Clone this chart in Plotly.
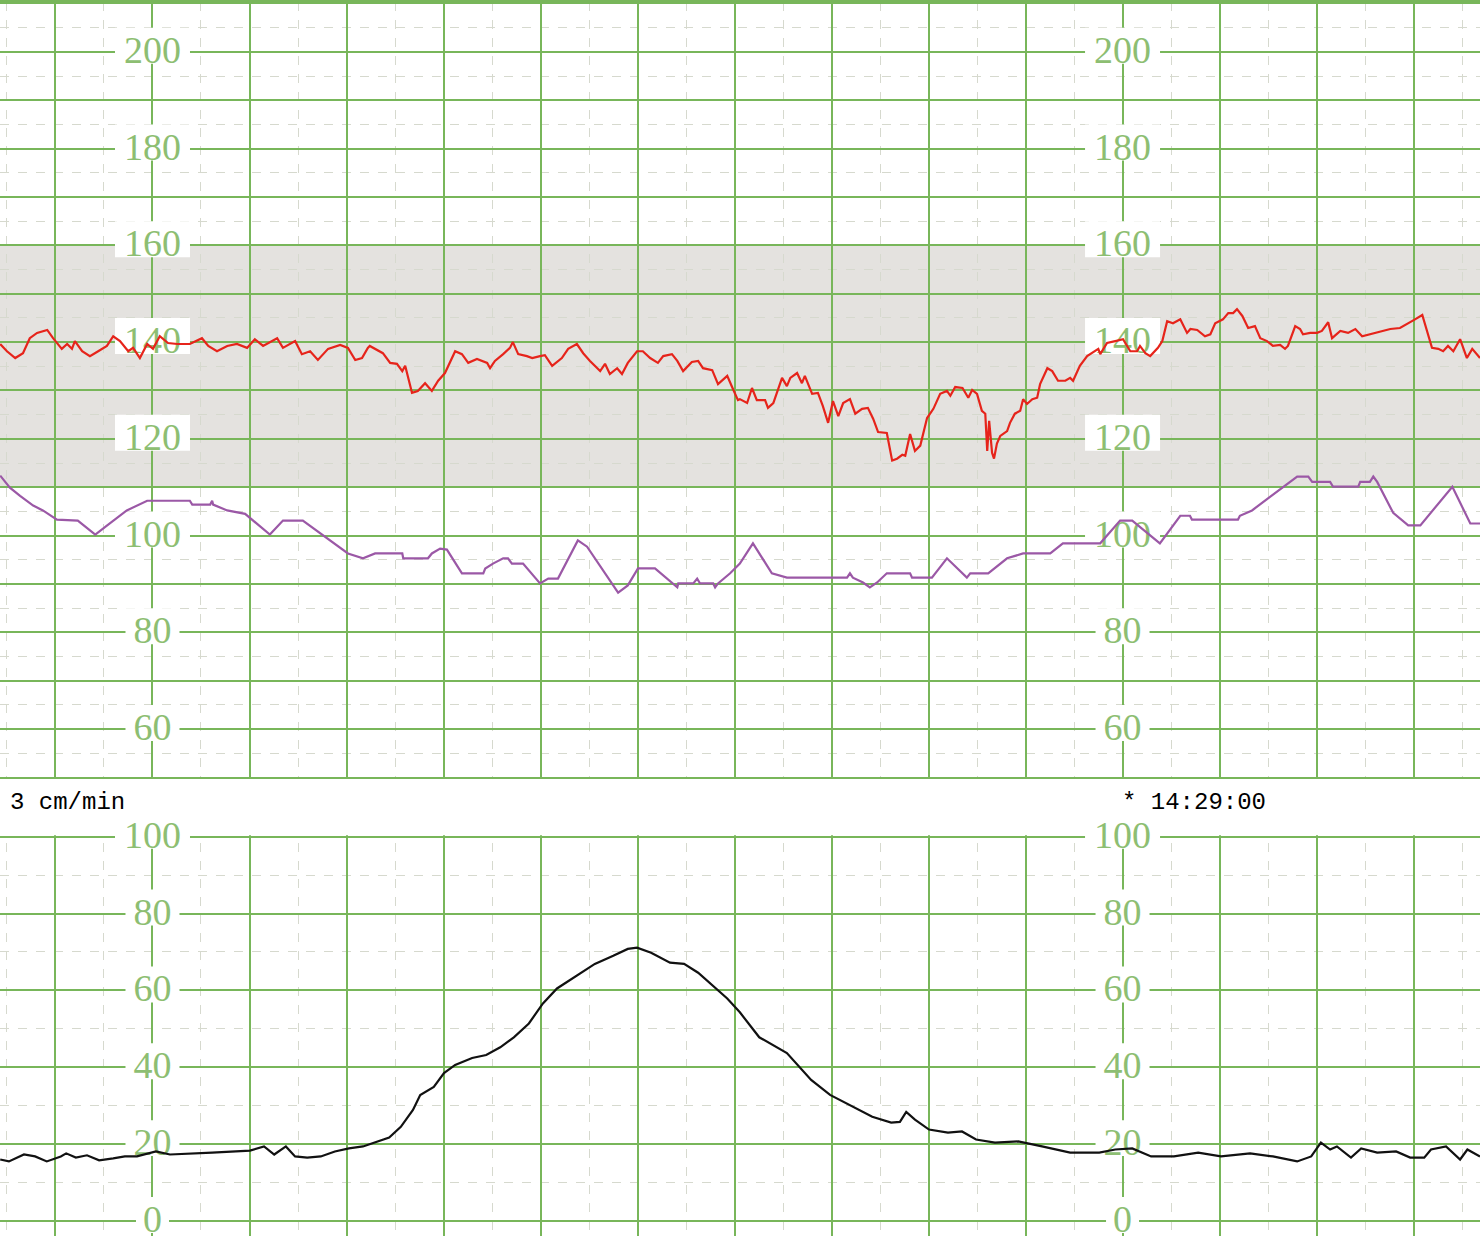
import plotly.graph_objects as go

# ---------------- data (time in seconds, 3 cm/min paper; 1 major division = 20 s) ----------------
fhr_t = [8.6, 10.0, 11.7, 13.3, 14.7, 16.2, 18.3, 19.5, 21.3, 22.4, 23.4, 24.0, 25.5, 27.1, 28.8, 30.6,
         31.9, 33.3, 35.0, 36.0, 37.4, 38.9, 40.1, 41.5, 43.2, 45.1, 47.7, 50.2, 51.5, 53.3, 55.4, 57.4,
         59.5, 61.1, 62.8, 65.7, 66.9, 69.4, 70.8, 72.5, 74.1, 76.2, 78.7, 80.3, 81.8, 83.2, 84.4, 84.8,
         87.5, 89.0, 90.4, 91.5, 92.1, 93.5, 94.7, 96.2, 97.6, 98.9, 100.3, 102.4, 103.8, 105.1, 106.9,
         109.0, 109.6, 110.6, 112.3, 113.7, 114.3, 115.4, 117.2, 118.3, 119.9, 120.9, 122.4, 124.4, 125.7,
         127.5, 128.8, 130.2, 132.3, 133.3, 134.3, 135.8, 136.8, 138.0, 139.9, 141.1, 142.6, 144.2, 145.3,
         147.1, 148.2, 149.4, 151.2, 152.5, 153.5, 155.4, 156.6, 158.5, 159.5, 160.7, 161.1, 162.6, 163.6,
         164.6, 166.3, 166.9, 168.0, 169.8, 170.8, 171.5, 172.9, 173.9, 174.5, 176.0, 177.2, 178.2, 179.3,
         180.3, 181.4, 182.4, 183.8, 184.9, 186.3, 187.5, 188.6, 189.6, 191.4, 192.5, 193.5, 194.6, 195.2,
         196.2, 197.2, 198.3, 199.7, 201.0, 202.4, 203.8, 204.5, 205.5, 207.0, 208.2, 209.0, 210.0, 211.0,
         211.7, 212.1, 212.5, 213.1, 213.5, 214.1, 214.8, 216.2, 216.8, 217.8, 218.9, 219.5, 220.3, 221.4,
         222.4, 223.0, 224.5, 225.5, 226.7, 228.2, 229.2, 229.8, 231.2, 232.7, 235.0, 235.4, 236.8, 238.5,
         240.1, 241.6, 243.0, 243.6, 244.7, 245.7, 247.3, 248.2, 249.2, 250.4, 251.9, 253.3, 254.0, 255.4,
         257.0, 258.1, 259.1, 260.7, 261.8, 262.8, 263.6, 264.7, 265.9, 267.3, 268.4, 269.8, 271.0, 272.5,
         273.5, 274.1, 275.6, 276.6, 277.2, 278.7, 280.1, 281.1, 282.4, 283.2, 284.9, 286.5, 288.0, 289.4,
         291.0, 292.5, 293.5, 295.2, 297.2, 298.7, 300.3, 301.8, 302.8, 303.8, 305.1, 306.1, 307.1, 308.2,
         309.6, 311.0, 312.1, 313.7]
fhr_bpm = [139.6, 138.1, 136.7, 137.7, 140.8, 141.9, 142.5, 140.8, 138.6, 139.6, 138.6, 140.2, 138.1, 137.1,
           138.1, 139.2, 141.2, 140.2, 138.1, 138.8, 136.7, 139.6, 138.6, 141.2, 139.8, 139.6, 139.6, 140.8,
           139.2, 138.1, 139.2, 139.6, 138.8, 140.6, 139.2, 140.8, 138.8, 140.2, 137.5, 138.1, 136.3, 138.6,
           139.4, 138.8, 136.3, 136.7, 138.8, 139.2, 137.7, 135.7, 135.5, 134.0, 135.1, 129.5, 129.9, 131.5,
           129.9, 132.0, 133.6, 138.1, 137.5, 135.7, 136.5, 135.7, 134.6, 136.1, 137.5, 138.8, 140.0, 137.5,
           137.1, 136.7, 137.1, 137.3, 135.1, 136.7, 138.6, 139.6, 137.7, 136.1, 134.0, 135.5, 133.4, 134.6,
           133.4, 135.7, 138.1, 138.1, 136.7, 135.7, 137.1, 137.5, 136.1, 134.0, 135.9, 136.1, 134.6, 134.2,
           131.3, 133.0, 130.7, 128.0, 128.2, 127.4, 130.5, 128.0, 128.0, 126.4, 127.4, 132.6, 130.9, 132.6,
           133.6, 131.5, 133.0, 129.3, 129.5, 126.8, 123.3, 127.8, 124.7, 127.4, 128.2, 125.2, 126.2, 126.4,
           124.1, 121.4, 121.2, 115.5, 115.9, 116.7, 116.5, 121.0, 117.5, 118.6, 124.3, 126.2, 129.3, 129.9,
           128.9, 130.7, 130.5, 128.5, 130.1, 129.3, 125.8, 125.2, 117.5, 123.7, 117.1, 115.9, 119.0, 120.6,
           121.6, 123.3, 125.2, 125.8, 128.2, 127.2, 128.2, 128.5, 131.3, 134.6, 134.0, 132.0, 132.0, 132.6,
           132.0, 135.1, 137.1, 138.6, 137.5, 139.8, 140.2, 140.6, 138.1, 138.1, 139.2, 137.7, 137.1, 138.8,
           140.2, 144.3, 143.9, 144.7, 141.9, 142.7, 142.5, 141.2, 141.6, 143.9, 144.7, 146.0, 146.0, 146.8,
           145.4, 142.9, 143.3, 140.8, 140.2, 139.2, 139.4, 138.6, 139.2, 143.3, 142.7, 141.6, 141.9, 141.9,
           142.3, 144.1, 140.8, 142.3, 141.9, 142.7, 141.2, 141.6, 141.9, 142.3, 142.7, 142.9, 143.7, 144.7,
           145.6, 142.3, 138.8, 138.6, 138.1, 139.2, 138.1, 140.6, 136.7, 138.6, 136.7]

mhr_t = [8.6, 10.6, 12.7, 15.4, 17.4, 20.3, 24.6, 28.2, 31.2, 34.7, 38.9, 47.7, 48.2, 51.9, 52.3, 52.5,
         55.4, 59.1, 64.2, 66.9, 71.0, 80.3, 83.4, 85.9, 91.5, 91.7, 96.8, 97.6, 99.3, 100.7, 103.8, 108.2,
         108.6, 110.2, 112.3, 113.3, 114.1, 116.4, 119.9, 121.6, 123.6, 127.7, 129.6, 132.9, 136.0, 138.0,
         140.1, 143.6, 145.3, 147.3, 148.2, 148.4, 151.5, 152.3, 152.9, 155.6, 156.0, 156.6, 159.1, 161.1,
         163.8, 167.7, 170.8, 183.2, 183.8, 184.4, 186.5, 187.9, 189.4, 191.4, 196.2, 196.6, 200.7, 203.8,
         207.9, 208.6, 212.3, 216.2, 218.9, 219.5, 225.1, 227.7, 235.4, 239.5, 242.0, 245.7, 247.7, 251.9,
         253.9, 254.3, 263.8, 264.2, 266.7, 276.0, 278.3, 279.1, 282.8, 283.4, 288.6, 289.0, 291.0, 291.7,
         292.5, 295.8, 298.9, 301.4, 308.0, 311.7, 313.7]
mhr_bpm = [112.4, 109.9, 108.2, 106.2, 105.2, 103.3, 103.1, 100.2, 102.5, 105.2, 107.2, 107.2, 106.4, 106.4,
           107.2, 106.4, 105.2, 104.5, 100.2, 103.1, 103.1, 96.3, 95.3, 96.3, 96.3, 95.3, 95.3, 96.3, 97.3,
           97.1, 92.2, 92.2, 93.2, 94.2, 95.3, 95.3, 94.2, 94.2, 90.1, 91.1, 91.1, 99.0, 97.7, 92.8, 88.2,
           89.7, 93.2, 93.2, 91.8, 90.1, 89.3, 90.1, 90.1, 91.1, 90.1, 90.1, 89.3, 90.1, 92.2, 94.2, 98.4,
           92.2, 91.3, 91.3, 92.2, 91.3, 90.3, 89.3, 90.3, 92.2, 92.2, 91.3, 91.3, 95.3, 91.3, 92.2, 92.2,
           95.3, 96.1, 96.3, 96.3, 98.4, 98.4, 103.1, 103.1, 100.0, 98.4, 104.1, 104.1, 103.3, 103.3, 104.1,
           105.2, 112.2, 112.2, 111.1, 111.1, 110.1, 110.1, 111.1, 111.1, 112.2, 111.1, 104.7, 102.1, 102.1,
           110.1, 102.5, 102.5]

toco_t = [8.6, 10.4, 13.5, 15.8, 18.2, 21.1, 22.2, 24.2, 26.5, 29.0, 31.9, 34.3, 36.8, 40.7, 43.6, 47.5,
          52.3, 57.2, 60.1, 63.0, 65.1, 67.5, 69.4, 71.9, 74.7, 77.6, 80.5, 83.4, 86.5, 88.8, 91.2, 93.7,
          95.2, 98.0, 100.1, 102.4, 105.9, 108.8, 111.7, 114.5, 117.6, 120.5, 123.4, 127.3, 131.2, 135.0,
          138.0, 139.9, 142.8, 146.7, 149.6, 152.5, 155.6, 158.5, 161.1, 165.1, 170.8, 175.8, 179.7, 184.4,
          188.4, 192.3, 194.1, 195.4, 197.2, 200.1, 204.0, 206.9, 209.8, 213.7, 218.5, 223.4, 229.2, 235.2,
          238.5, 242.0, 245.9, 250.6, 255.6, 260.3, 266.3, 271.0, 276.0, 278.9, 280.9, 282.8, 284.2, 287.1,
          289.2, 292.5, 296.4, 299.3, 302.2, 303.6, 306.7, 309.6, 311.1, 313.7]
toco_val = [16.0, 15.5, 17.3, 16.8, 15.5, 16.8, 17.6, 16.5, 17.1, 15.8, 16.3, 16.8, 16.8, 18.1, 17.3, 17.6,
            17.8, 18.1, 18.3, 19.4, 17.3, 19.4, 16.8, 16.5, 16.8, 18.1, 18.9, 19.4, 20.7, 21.7, 24.5, 28.9,
            32.8, 34.9, 38.5, 40.6, 42.4, 43.2, 45.2, 47.8, 51.4, 56.6, 60.5, 63.8, 66.9, 69.0, 70.8, 71.1,
            69.8, 67.2, 66.9, 64.6, 61.2, 57.9, 54.3, 47.8, 43.7, 36.7, 32.8, 29.7, 27.1, 25.6, 25.8, 28.4,
            26.4, 23.8, 23.0, 23.3, 21.2, 20.4, 20.7, 19.4, 17.8, 17.8, 18.6, 18.9, 16.8, 16.8, 17.8, 16.8,
            17.6, 16.8, 15.5, 16.8, 20.4, 18.6, 19.4, 16.5, 18.9, 17.8, 18.1, 16.5, 16.5, 18.6, 19.4, 16.0,
            18.6, 16.8]

top_ticks = [200, 180, 160, 140, 120, 100, 80, 60]
bottom_ticks = [100, 80, 60, 40, 20, 0]
label_times = [40, 240]
normal_band = [110, 160]
toco_max = 100
speed_text = "3 cm/min"
time_text = "* 14:29:00"

# ---------------- styling / geometry ----------------
GRID = "#78b65a"
MINOR = "#d6d9ce"
LABEL = "#8dbe72"
BAND = "#e4e2df"
X_RANGE = [8.56, 313.7]
TOP_RANGE = [50, 210.3]
W, H = 1480, 1236
TOP_PX = 776.7            # height of upper panel in pixels
BOT_PX = 400.0            # pixels from bottom edge to the "100" line of the lower panel
BOT_MIN = -3.9
BOT_EXTRA_PX = 30.0       # lower subplot extends above 100 so its top label is not clipped
px_per_s = W / (X_RANGE[1] - X_RANGE[0])
px_per_top = TOP_PX / (TOP_RANGE[1] - TOP_RANGE[0])
px_per_bot = BOT_PX / (toco_max - BOT_MIN)
BOT_RANGE = [BOT_MIN, toco_max + BOT_EXTRA_PX / px_per_bot]
LBL_SHIFT = 6.0           # px: raise box so the digits sit centred on the grid line
LBL_HALF_H = 18.0

fig = go.Figure()
fig.add_trace(go.Scatter(x=mhr_t, y=mhr_bpm, mode="lines", line=dict(color="#9b58a6", width=2.2),
                         xaxis="x", yaxis="y", hoverinfo="skip"))
fig.add_trace(go.Scatter(x=fhr_t, y=fhr_bpm, mode="lines", line=dict(color="#e6241b", width=2.2),
                         xaxis="x", yaxis="y", hoverinfo="skip"))
fig.add_trace(go.Scatter(x=toco_t, y=toco_val, mode="lines", line=dict(color="#111111", width=2.2),
                         xaxis="x2", yaxis="y2", hoverinfo="skip"))

xcommon = dict(range=X_RANGE, showgrid=True, gridcolor=GRID, gridwidth=2, tick0=0, dtick=20,
               showticklabels=False, ticks="", zeroline=False, fixedrange=True,
               minor=dict(dtick=10, showgrid=True, gridcolor=MINOR, gridwidth=1, griddash="dash"))

fig.update_layout(
    width=W, height=H,
    margin=dict(l=0, r=0, t=0, b=0, pad=0),
    paper_bgcolor="white", plot_bgcolor="white",
    showlegend=False,
    xaxis=dict(**xcommon, anchor="y", showline=True, mirror=True, linecolor=GRID, linewidth=2),
    xaxis2=dict(**xcommon, anchor="y2", matches="x", showline=False),
    yaxis=dict(domain=[1 - TOP_PX / H, 1], range=TOP_RANGE, showgrid=True, gridcolor=GRID,
               gridwidth=2, tick0=0, dtick=10, showticklabels=False, ticks="", zeroline=False,
               fixedrange=True,
               minor=dict(dtick=5, showgrid=True, gridcolor=MINOR, gridwidth=1, griddash="dash")),
    yaxis2=dict(domain=[0, (BOT_PX + BOT_EXTRA_PX) / H], range=BOT_RANGE, showgrid=True, gridcolor=GRID,
                gridwidth=2, tick0=0, dtick=20, showticklabels=False, ticks="", zeroline=False,
                fixedrange=True,
                minor=dict(dtick=10, showgrid=True, gridcolor=MINOR, gridwidth=1, griddash="dash")),
)

# normal FHR band
fig.add_shape(type="rect", xref="x", yref="y", x0=X_RANGE[0], x1=X_RANGE[1],
              y0=normal_band[0], y1=normal_band[1], fillcolor=BAND, line_width=0, layer="below")
# blank strip above the 100 line of the lower panel
fig.add_shape(type="rect", xref="x2", yref="y2", x0=X_RANGE[0], x1=X_RANGE[1],
              y0=toco_max + 1.3 / px_per_bot, y1=BOT_RANGE[1] + 1, fillcolor="white", line_width=0,
              layer="between")

label_font = dict(family="Liberation Serif", size=38, color=LABEL)


def add_label(xref, yref, t, v, ppu):
    s = str(v)
    half_w = (12 + 21 * len(s)) / 2 / px_per_s
    c = v + LBL_SHIFT / ppu
    h = LBL_HALF_H / ppu
    fig.add_shape(type="rect", xref=xref, yref=yref, x0=t - half_w, x1=t + half_w, y0=c - h, y1=c + h,
                  fillcolor="white", line_width=0, layer="between",
                  label=dict(text=s, textposition="middle center", font=label_font))


for t in label_times:
    for v in top_ticks:
        add_label("x", "y", t, v, px_per_top)
    for v in bottom_ticks:
        add_label("x2", "y2", t, v, px_per_bot)

fig.add_annotation(xref="paper", yref="paper", x=8 / W, y=1 - 802 / H, xanchor="left",
                   yanchor="middle", text=speed_text, showarrow=False,
                   font=dict(family="Liberation Mono", size=24, color="black"))
fig.add_annotation(xref="paper", yref="paper", x=1120 / W, y=1 - 802 / H, xanchor="left",
                   yanchor="middle", text=time_text, showarrow=False,
                   font=dict(family="Liberation Mono", size=24, color="black"))

fig.write_html("out.html", config={"displayModeBar": False},
               post_script="document.body.style.margin='0px';")
